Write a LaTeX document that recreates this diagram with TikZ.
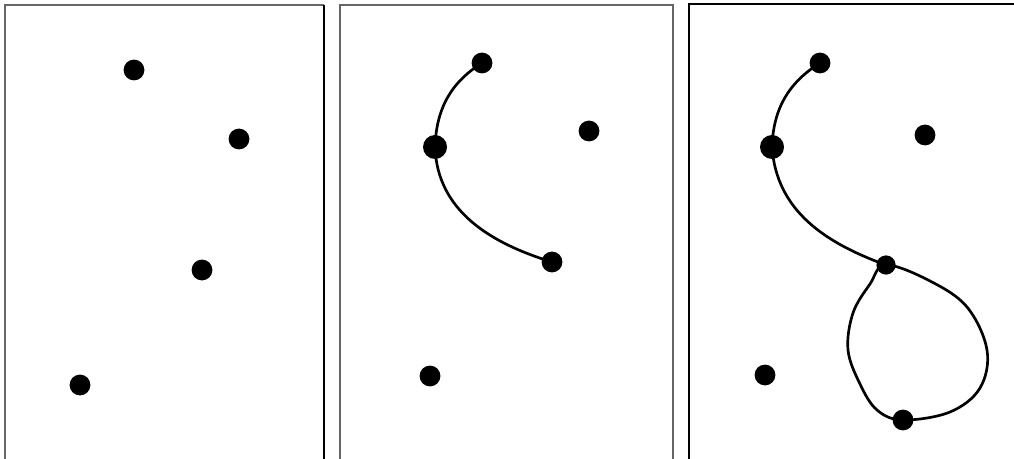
\documentclass[tikz,border=0pt]{standalone}
\usepackage{tikz}

\tikzset{dot/.style={circle, fill=black, inner sep=0pt, minimum size=0.52cm},
         bigdot/.style={dot, minimum size=0.6cm},
         frame/.style={line width=1.2pt},
         stroke/.style={line width=1.9pt, line cap=round}}

\begin{document}
\begin{tikzpicture}[x=0.025cm, y=-0.025cm]
\clip (0,0) rectangle (1014,459);
\fill[white] (0,0) rectangle (1014,459);

% frames
\draw[frame, gray!80!black] (5,470) |- (324,5);
\draw[frame, black] (324,5) -- (324,470);
\draw[frame, gray!80!black] (340,470) |- (673,5) -- (673,470);
\draw[frame, black] (689,470) |- (1030,4);

% first panel
\node[dot] (a1) at (134,70) {};
\node[dot] (a2) at (239,139) {};
\node[dot] (a3) at (202,270) {};
\node[dot] (a4) at (80,385) {};

% second panel
\node[dot] (b1) at (482,63) {};
\node[bigdot] (b2) at (435,147) {};
\node[dot] (b3) at (589,131) {};
\node[dot] (b4) at (552,262) {};
\node[dot] (b5) at (430,376) {};
\draw[stroke] (b1.center) to[out=212,in=88] (b2.center)
                          to[out=-88,in=163] (b4.center);

% third panel
\node[dot] (c1) at (820,63) {};
\node[bigdot] (c2) at (772,147) {};
\node[dot] (c3) at (925,135) {};
\node[dot, minimum size=0.48cm] (c4) at (886,265) {};
\node[dot] (c5) at (765,375) {};
\node[dot] (c6) at (903,420) {};
\draw[stroke] (c1.center) to[out=212,in=88] (c2.center)
                          to[out=-86,in=160] (c4.center);
\draw[stroke] plot[smooth cycle, tension=0.6] coordinates
  {(c4.center) (930,281) (967,307) (987,350) (980,388) (950,412) (c6.center)
   (877,410) (860,384) (848,350) (853,313) (870,284)};
\end{tikzpicture}
\end{document}
